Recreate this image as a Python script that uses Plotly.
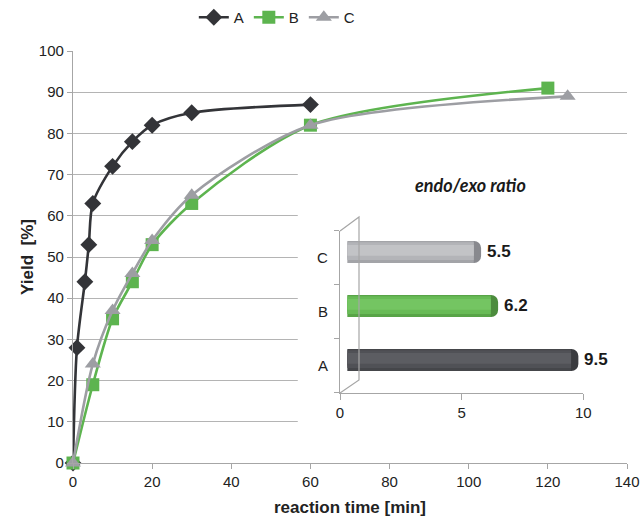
import plotly.graph_objects as go

# ---------------- data ----------------
time_A = [0, 1, 3, 4, 5, 10, 15, 20, 30, 60]
yield_A = [0, 28, 44, 53, 63, 72, 78, 82, 85, 87]

time_B = [0, 5, 10, 15, 20, 30, 60, 120]
yield_B = [0, 19, 35, 44, 53, 63, 82, 91]

time_C = [0, 5, 10, 15, 20, 30, 60, 125]
yield_C = [0, 24, 37, 46, 54, 65, 82, 89]

ratio_cats = ["A", "B", "C"]
ratio_vals = [9.5, 6.2, 5.5]
ratio_text = ["9.5", "6.2", "5.5"]

# ---------------- style ----------------
FONT = "Liberation Sans, Arial, sans-serif"
COL_A, COL_B, COL_C = "#333438", "#5db44f", "#9d9ea3"
GRID = "#b4b4b4"
AXC = "#a6a6a6"

fig = go.Figure()

fig.add_trace(go.Scatter(x=time_A, y=yield_A, name="A", mode="lines+markers",
                         line=dict(color=COL_A, width=2.6, shape="spline", smoothing=0.8),
                         marker=dict(symbol="diamond", size=13, color=COL_A),
                         cliponaxis=False))
fig.add_trace(go.Scatter(x=time_B, y=yield_B, name="B", mode="lines+markers",
                         line=dict(color=COL_B, width=2.6, shape="spline", smoothing=0.8),
                         marker=dict(symbol="square", size=13, color=COL_B),
                         cliponaxis=False))
fig.add_trace(go.Scatter(x=time_C, y=yield_C, name="C", mode="lines+markers",
                         line=dict(color=COL_C, width=2.6, shape="spline", smoothing=0.8),
                         marker=dict(symbol="triangle-up", size=14, color=COL_C),
                         cliponaxis=False))

# ---------------- inset cylinders ----------------
DEPTH = 0.3         # 3D depth shift of the bars (x units)
CAP = 0.3           # length of end cap
BW = 0.407          # bar thickness (category units)
SHIFT = 0.111       # 3D shift of the bars upward (category units)

cap_cols = ["#3a3b3f", "#4c8c3d", "#88898e"]
edge_cols = ["#45464a", "#58a447", "#a3a4a8"]
mid_cols = ["#505156", "#68bb56", "#b3b4b8"]
hi_cols = ["#5c5d62", "#74c562", "#c2c3c6"]

body_vals = [v - CAP for v in ratio_vals]
bases = [DEPTH] * len(ratio_vals)

fig.add_trace(go.Bar(y=ratio_cats, x=ratio_vals, base=bases, orientation="h",
                     width=BW, offset=SHIFT - BW / 2,
                     marker=dict(color=cap_cols, line=dict(width=0), cornerradius=7),
                     xaxis="x2", yaxis="y2", showlegend=False, hoverinfo="skip"))
for cols, w, c in [(edge_cols, BW, SHIFT), (mid_cols, 0.33, SHIFT + 0.015), (hi_cols, 0.2, SHIFT + 0.03)]:
    fig.add_trace(go.Bar(y=ratio_cats, x=body_vals, base=bases, orientation="h",
                         width=w, offset=c - w / 2,
                         marker=dict(color=cols, line=dict(width=0)),
                         xaxis="x2", yaxis="y2", showlegend=False, hoverinfo="skip"))

# ---------------- layout ----------------
tickfont = dict(family=FONT, size=15, color="#222222")

fig.update_layout(
    width=643, height=517,
    margin=dict(l=73, r=16, t=0, b=54),
    paper_bgcolor="white", plot_bgcolor="white",
    font=dict(family=FONT, color="#222222"),
    barmode="overlay",
    legend=dict(orientation="h", x=0.367, xanchor="center", y=0.998, yanchor="top",
                font=dict(family=FONT, size=15, color="#222222"),
                itemwidth=30, entrywidth=10, tracegroupgap=0, bgcolor="rgba(0,0,0,0)"),
    xaxis=dict(range=[0, 140], dtick=20, showgrid=False, zeroline=False, automargin=False,
               showline=True, linecolor=AXC, linewidth=1.2,
               ticks="outside", ticklen=5, tickcolor=AXC, tickfont=tickfont,
               title=dict(text="<b>reaction time [min]</b>", font=dict(family=FONT, size=17, color="#222222"),
                          standoff=12)),
    yaxis=dict(domain=[0, 0.8898], range=[0, 100], dtick=10, showgrid=True, gridcolor=GRID, gridwidth=1.2,
               zeroline=False, showline=True, linecolor=AXC, linewidth=1.2, automargin=False,
               ticks="outside", ticklen=5, tickcolor=AXC, tickfont=tickfont,
               title=dict(text="<b>Yield\u00a0\u00a0[%]</b>", font=dict(family=FONT, size=17, color="#222222"),
                          standoff=0)),
    xaxis2=dict(domain=[0.482, 0.921], anchor="y2", range=[0, 10], tickvals=[0, 5, 10],
                showgrid=False, zeroline=False, showline=True, linecolor=AXC, linewidth=1.2,
                ticks="outside", ticklen=6, tickcolor=AXC, tickfont=tickfont, automargin=False),
    yaxis2=dict(domain=[0.1512, 0.5011], anchor="x2", range=[-0.5, 2.5], type="category",
                showgrid=False, zeroline=False, showline=True, linecolor=AXC, linewidth=1.2,
                ticks="outside", ticklen=5, tickcolor=AXC, tickson="boundaries",
                tickfont=tickfont, ticklabelstandoff=8, automargin=False),
)

# value labels of the cylinders
for cat, v, t in zip(ratio_cats, ratio_vals, ratio_text):
    fig.add_annotation(xref="x2", yref="y2", x=v + DEPTH, y=cat, text=f"<b>{t}</b>",
                       showarrow=False, xanchor="left", yanchor="middle", xshift=4, yshift=6,
                       font=dict(family=FONT, size=17, color="#1a1a1a"))

# white panel hiding gridlines behind the inset
fig.add_shape(type="rect", xref="x", yref="y", x0=56.8, x1=140, y0=0.6, y1=71.6,
              fillcolor="white", line=dict(width=0), layer="between")

# 3D wall of the inset
wall = dict(color=AXC, width=1.2)
fig.add_shape(type="path", xref="x2 domain", yref="y2 domain",
              path="M 0 1 L 0.078 1.086 L 0.078 0.08 L 0 0",
              line=wall, layer="above")

fig.add_annotation(xref="x2 domain", yref="y2 domain", x=0.535, y=1.284,
                   xanchor="center", yanchor="middle",
                   text="<b><i>endo/exo ratio</i></b>", showarrow=False,
                   font=dict(family="Lato, Open Sans, sans-serif", size=18, color="#1a1a1a"))

fig.write_html("out.html", config={"displayModeBar": False},
               post_script="document.body.style.margin='0px';")
